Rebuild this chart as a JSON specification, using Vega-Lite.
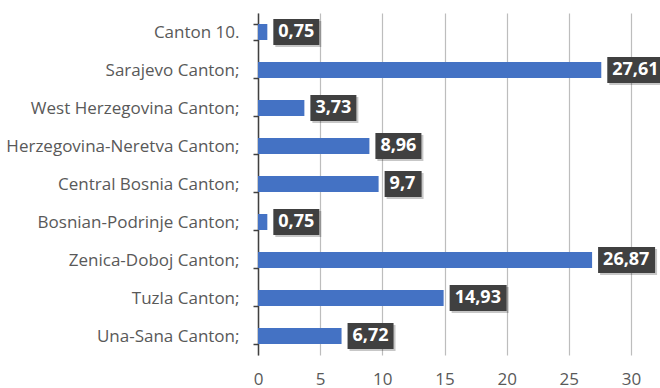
{
  "$schema": "https://vega.github.io/schema/vega-lite/v6.json",
  "autosize": {"type": "none"},
  "width": 373,
  "height": 342,
  "padding": {"left": 258, "top": 13, "right": 29, "bottom": 33},
  "background": "white",
  "config": {
    "view": {"stroke": null},
    "font": "Open Sans"
  },
  "data": {
    "values": [
      {"canton": "Canton 10.", "value": 0.75, "label": "0,75"},
      {"canton": "Sarajevo Canton;", "value": 27.61, "label": "27,61"},
      {"canton": "West Herzegovina Canton;", "value": 3.73, "label": "3,73"},
      {"canton": "Herzegovina-Neretva Canton;", "value": 8.96, "label": "8,96"},
      {"canton": "Central Bosnia Canton;", "value": 9.7, "label": "9,7"},
      {"canton": "Bosnian-Podrinje Canton;", "value": 0.75, "label": "0,75"},
      {"canton": "Zenica-Doboj Canton;", "value": 26.87, "label": "26,87"},
      {"canton": "Tuzla Canton;", "value": 14.93, "label": "14,93"},
      {"canton": "Una-Sana Canton;", "value": 6.72, "label": "6,72"}
    ]
  },
  "encoding": {
    "y": {
      "field": "canton",
      "type": "nominal",
      "sort": null,
      "title": null,
      "scale": {"paddingInner": 0.58, "paddingOuter": 0.29},
      "axis": {
        "tickBand": "extent",
        "domainColor": "#404040",
        "domainWidth": 1.5,
        "tickColor": "#404040",
        "tickWidth": 1.5,
        "tickSize": 5,
        "labelPadding": 14,
        "labelLimit": 300,
        "labelFont": "Open Sans",
        "labelFontSize": 17,
        "labelColor": "#595959",
        "grid": false
      }
    },
    "x": {
      "field": "value",
      "type": "quantitative",
      "title": null,
      "scale": {"domain": [0, 30], "nice": false},
      "axis": {
        "values": [0, 5, 10, 15, 20, 25, 30],
        "domain": false,
        "ticks": false,
        "grid": true,
        "gridColor": "#bdbdbd",
        "gridWidth": 1.2,
        "labelPadding": 16,
        "labelFont": "Open Sans",
        "labelFontSize": 17,
        "labelColor": "#595959",
        "labelFlush": false
      }
    }
  },
  "layer": [
    {
      "mark": {"type": "bar", "color": "#4472C4", "size": 16, "clip": false}
    },
    {
      "mark": {"type": "point", "filled": true, "color": "#000000", "opacity": 0.22, "size": 4, "xOffset": 2, "yOffset": 2},
      "encoding": {
        "shape": {
          "field": "label",
          "type": "nominal",
          "legend": null,
          "scale": {
            "domain": ["0,75", "27,61", "3,73", "8,96", "9,7", "26,87", "14,93", "6,72"],
            "range": ["M6,-13H52V13H6Z", "M6,-13H63V13H6Z", "M6,-13H52V13H6Z", "M6,-13H52V13H6Z", "M6,-13H43V13H6Z", "M6,-13H63V13H6Z", "M6,-13H63V13H6Z", "M6,-13H52V13H6Z"]
          }
        }
      }
    },
    {
      "mark": {"type": "point", "filled": true, "color": "#404040", "opacity": 1, "size": 4},
      "encoding": {
        "shape": {
          "field": "label",
          "type": "nominal",
          "legend": null,
          "scale": {
            "domain": ["0,75", "27,61", "3,73", "8,96", "9,7", "26,87", "14,93", "6,72"],
            "range": ["M6,-13H52V13H6Z", "M6,-13H63V13H6Z", "M6,-13H52V13H6Z", "M6,-13H52V13H6Z", "M6,-13H43V13H6Z", "M6,-13H63V13H6Z", "M6,-13H63V13H6Z", "M6,-13H52V13H6Z"]
          }
        }
      }
    },
    {
      "mark": {"type": "text", "align": "left", "baseline": "middle", "dx": 11, "dy": 0, "color": "white", "font": "Open Sans", "fontWeight": "bold", "fontSize": 18},
      "encoding": {
        "text": {"field": "label", "type": "nominal"}
      }
    }
  ]
}
